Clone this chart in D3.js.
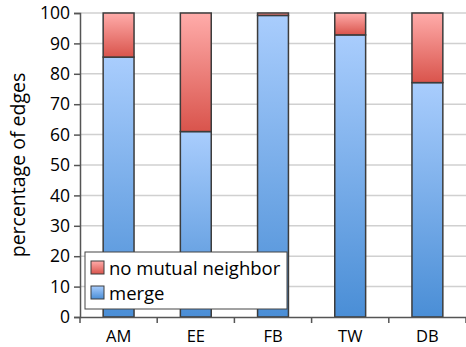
<!DOCTYPE html>
<html><head><meta charset="utf-8">
<script src="https://cdn.jsdelivr.net/npm/d3@7"></script>
<style>body{margin:0;background:#fff;} text{font-family:"Open Sans","Noto Sans",sans-serif;}</style>
</head><body>
<svg id="c" width="466" height="347"></svg>
<script>
const categories = ["AM", "EE", "FB", "TW", "DB"];
const mergeValues = [85.5, 61, 99.2, 92.8, 77.1];
const noMutualValues = mergeValues.map(v => 100 - v);
const yTicks = [0,10,20,30,40,50,60,70,80,90,100];
const seriesNames = ["no mutual neighbor", "merge"];

const svg = d3.select("#c");
const m = {l:80, r:0, t:13, b:30};
const W = 466, H = 347;
const x = d3.scaleBand().domain(categories).range([m.l, W - m.r]).paddingInner(0).paddingOuter(0);
const y = d3.scaleLinear().domain([0,100]).range([H - m.b, m.t]);

const defs = svg.append("defs");
const gb = defs.append("linearGradient").attr("id","gBlue").attr("x1",0).attr("y1",0).attr("x2",0).attr("y2",1);
gb.append("stop").attr("offset","0%").attr("stop-color","#a9cdfd");
gb.append("stop").attr("offset","100%").attr("stop-color","#4a8ed6");
const gr = defs.append("linearGradient").attr("id","gRed").attr("x1",0).attr("y1",0).attr("x2",0).attr("y2",1);
gr.append("stop").attr("offset","0%").attr("stop-color","#ffacaa");
gr.append("stop").attr("offset","100%").attr("stop-color","#d9544c");

svg.append("g").selectAll("line").data(yTicks.filter(d=>d>0)).join("line")
  .attr("x1", m.l).attr("x2", W).attr("y1", d=>y(d)).attr("y2", d=>y(d))
  .attr("stroke","#d0d0d0").attr("stroke-width",1.5);

const bw = x.bandwidth()*0.4;
const bars = svg.append("g");
categories.forEach((c,i)=>{
  const cx = x(c) + x.bandwidth()/2;
  bars.append("rect").attr("x", cx-bw/2).attr("width", bw)
    .attr("y", y(mergeValues[i])).attr("height", y(0)-y(mergeValues[i]))
    .attr("fill","url(#gBlue)").attr("stroke","#3c3c3c").attr("stroke-width",1.5);
  bars.append("rect").attr("x", cx-bw/2).attr("width", bw)
    .attr("y", y(100)).attr("height", y(mergeValues[i])-y(100))
    .attr("fill","url(#gRed)").attr("stroke","#3c3c3c").attr("stroke-width",1.5);
});

const yAxis = svg.append("g").attr("transform",`translate(${m.l},0)`)
  .call(d3.axisLeft(y).tickValues(yTicks).tickSize(6).tickPadding(4));
yAxis.select(".domain").attr("stroke","#555").attr("stroke-width",1.5);
yAxis.selectAll(".tick line").attr("stroke","#555").attr("stroke-width",1.5);
yAxis.selectAll("text").attr("font-size",17.5).attr("fill","#000").attr("font-family","'Open Sans',sans-serif");

const xAxis = svg.append("g").attr("transform",`translate(0,${y(0)})`)
  .call(d3.axisBottom(x).tickSize(0).tickPadding(13));
xAxis.select(".domain").attr("stroke","#555").attr("stroke-width",1.5);
xAxis.selectAll("text").attr("font-size",16.5).attr("fill","#000").attr("font-family","'Open Sans',sans-serif");
svg.append("g").selectAll("line").data(categories.concat(["_end"])).join("line")
  .attr("x1", (d,i)=> m.l + i*x.bandwidth()).attr("x2",(d,i)=> m.l + i*x.bandwidth())
  .attr("y1", y(0)).attr("y2", y(0)+6).attr("stroke","#555").attr("stroke-width",1.5);

svg.append("text").attr("transform",`translate(25,${(m.t+H-m.b)/2}) rotate(-90)`)
  .attr("text-anchor","middle").attr("font-size",19.5).text("percentage of edges");

const lg = svg.append("g").attr("transform","translate(85,252)");
lg.append("rect").attr("width",202).attr("height",57).attr("fill","#fff").attr("stroke","#444").attr("stroke-width",1);
const fills = ["url(#gRed)","url(#gBlue)"];
seriesNames.forEach((n,i)=>{
  lg.append("rect").attr("x",6).attr("y",9+i*25).attr("width",13).attr("height",13)
    .attr("fill",fills[i]).attr("stroke","#3c3c3c").attr("stroke-width",1);
  lg.append("text").attr("x",24).attr("y",23+i*25).attr("font-size",18.5).text(n);
});
</script>
</body></html>
